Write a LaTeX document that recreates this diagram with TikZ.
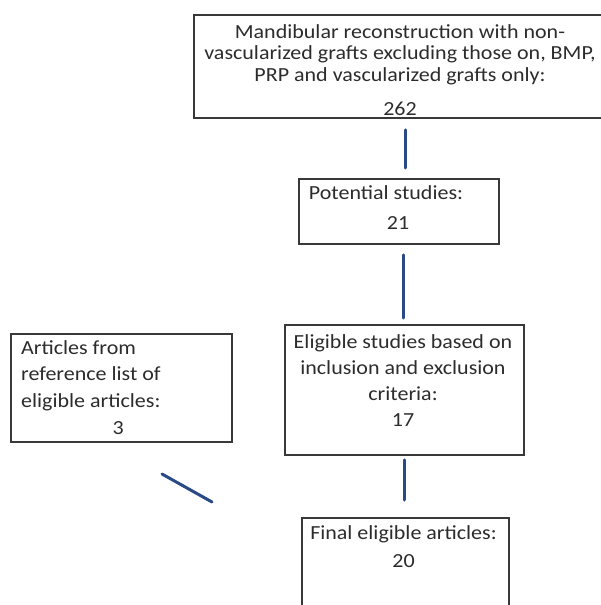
\documentclass[tikz,border=0pt]{standalone}
\usepackage{fontspec}
\setmainfont[FakeStretch=1.1]{Carlito}
\definecolor{boxline}{HTML}{383838}
\definecolor{txtcol}{HTML}{2C2C2C}
\definecolor{connblue}{HTML}{2A4A86}
\begin{document}
\begin{tikzpicture}[x=1pt,y=-1pt,
  box/.style={draw=boxline, line width=1.8pt, fill=none, inner sep=0pt, anchor=north west},
  txt/.style={text=txtcol, inner sep=0pt, anchor=north},
  conn/.style={draw=connblue, line width=3pt, line cap=round}]
\useasboundingbox (0,0) rectangle (601,605);
\clip (0,0) rectangle (601,605);
% boxes
\node[box, minimum width=414pt, minimum height=103pt] (top) at (193,14) {};
\node[box, minimum width=200pt, minimum height=65pt] (pot) at (298,178) {};
\node[box, minimum width=239pt, minimum height=130pt] (eli) at (284,324) {};
\node[box, minimum width=221pt, minimum height=108pt] (art) at (10,333) {};
\node[box, minimum width=207pt, minimum height=130pt] (fin) at (301,517) {};
% texts
\node[txt, align=center, font=\fontsize{20}{21.5}\selectfont] (toptxt) at (400,24)
  {Mandibular reconstruction with non-\\vascularized grafts excluding those on, BMP,\\PRP and vascularized grafts only:\\[12.5pt]262};
\node[txt, align=center, font=\fontsize{20}{30}\selectfont] (pottxt) at (398,185)
  {Potential studies:\hspace*{24pt}\\21};
\node[txt, align=center, font=\fontsize{20}{26.3}\selectfont] (elitxt) at (403,334)
  {Eligible studies based on\\inclusion and exclusion\\criteria:\\17};
\node[txt, anchor=north west, align=left, font=\fontsize{20}{26.7}\selectfont] (arttxt) at (21,340)
  {Articles from\\reference list of\\eligible articles:\\\hspace*{91.5pt}3};
\node[txt, align=center, font=\fontsize{20}{28}\selectfont] (fintxt) at (403.5,525)
  {Final eligible articles:\\20};
% connectors
\coordinate (c1) at (405,0);
\coordinate (c2) at (403,0);
\coordinate (c3) at (404,0);
\draw[conn, shorten <=11pt, shorten >=10pt] (top.south -| c1) -- (pot.north -| c1);
\draw[conn, shorten <=10pt, shorten >=6pt] (pot.south -| c2) -- (eli.north -| c2);
\draw[conn, shorten <=4pt, shorten >=17pt] (eli.south -| c3) -- (fin.north -| c3);
\coordinate (d1) at (162,474);
\coordinate (d2) at (212,502);
\draw[conn] (d1) -- (d2);
\end{tikzpicture}
\end{document}
